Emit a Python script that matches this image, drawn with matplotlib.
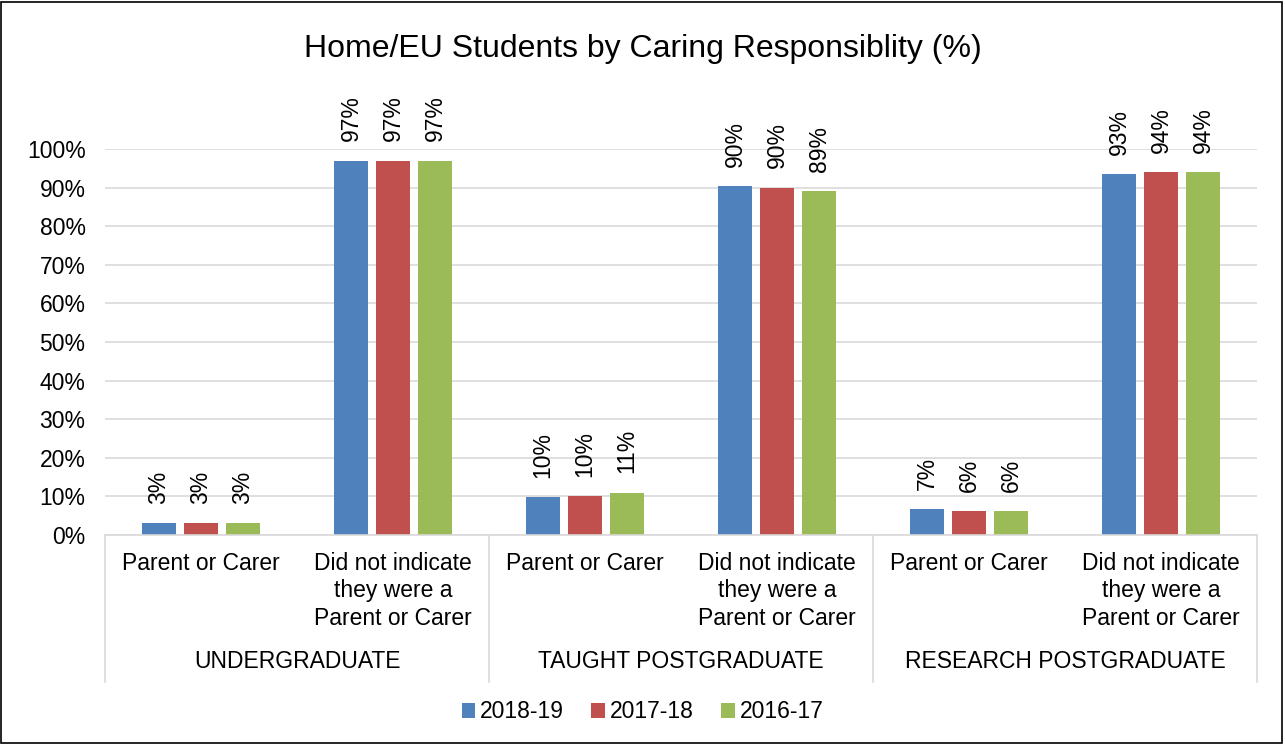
import matplotlib.pyplot as plt
from matplotlib.patches import Rectangle, Patch
from matplotlib.ticker import PercentFormatter
import numpy as np

plt.rcParams['font.family'] = ['Liberation Sans', 'DejaVu Sans']

TITLE = 'Home/EU Students by Caring Responsiblity (%)'
groups = ['UNDERGRADUATE', 'TAUGHT POSTGRADUATE', 'RESEARCH POSTGRADUATE']
subcats = ['Parent or Carer', 'Did not indicate\nthey were a\nParent or Carer'] * 3
years = ['2018-19', '2017-18', '2016-17']
v_1819 = [3.0, 97.0, 9.8, 90.3, 6.7, 93.4]
v_1718 = [3.0, 97.0, 10.0, 90.0, 6.2, 94.0]
v_1617 = [3.0, 97.0, 11.0, 89.0, 6.2, 94.0]
series = [v_1819, v_1718, v_1617]
COLORS = ['#4F81BD', '#C0504D', '#9BBB59']
GRID = '#D9D9D9'
FS = 16.5

W, H = 1285, 744
fig = plt.figure(figsize=(W / 100, H / 100), dpi=100, facecolor='white')
fig.patches.append(Rectangle((0.001, 0.002), 0.997, 0.995, transform=fig.transFigure,
                             fill=False, edgecolor='black', lw=1.2))

# plot area in pixels: x 105..1257, y 149 (100%) .. 535 (0%)
ax = fig.add_axes([105 / W, (H - 535) / H, (1257 - 105) / W, (535 - 149) / H])
ax.set_xlim(-0.5, 5.5)
ax.set_ylim(0, 100)
ax.set_yticks(np.arange(0, 101, 10))
ax.yaxis.set_major_formatter(PercentFormatter(decimals=0))
ax.tick_params(axis='y', length=0, labelsize=FS, pad=14)
ax.set_xticks([])
for sp in ax.spines.values():
    sp.set_visible(False)
ax.grid(axis='y', color=GRID, lw=1.2)
ax.set_axisbelow(True)

x = np.arange(len(subcats))
step, width = 0.219, 0.178
for k, (vals, col, lab) in enumerate(zip(series, COLORS, years)):
    xs = x + (k - 1) * step
    ax.bar(xs, vals, width=width, color=col, label=lab, zorder=2)
    for xi, v in zip(xs, vals):
        ax.annotate(f'{v:.0f}%', (xi, v), xytext=(0, 14), textcoords='offset points',
                    rotation=90, ha='center', va='bottom', fontsize=FS,
                    annotation_clip=False)

# multi-level category axis
trans = ax.get_xaxis_transform()
px = 1.0 / (535 - 149)  # one pixel in axes-y units
ax.plot([-0.5, 5.5], [0, 0], color=GRID, lw=1.2, transform=trans, clip_on=False)
for b in [-0.5, 1.5, 3.5, 5.5]:
    ax.plot([b, b], [0, -147 * px], color=GRID, lw=1.2, transform=trans, clip_on=False)
for xi, s in zip(x, subcats):
    ax.text(xi, -17 * px, s, transform=trans, ha='center', va='top', fontsize=FS,
            linespacing=1.25)
for g, name in enumerate(groups):
    ax.text(2 * g + 0.5, -126 * px, name, transform=trans, ha='center', va='center',
            fontsize=FS)

fig.text(0.5, (H - 49) / H, TITLE, ha='center', va='center', fontsize=23)

handles = [Patch(facecolor=c, label=y) for c, y in zip(COLORS, years)]
fig.legend(handles=handles, loc='center', bbox_to_anchor=(0.5, (H - 712) / H), ncol=3,
           frameon=False, fontsize=FS, handlelength=0.6, handleheight=0.6,
           handletextpad=0.2, columnspacing=1.2)

fig.savefig('out.png', dpi=100, facecolor='white')
